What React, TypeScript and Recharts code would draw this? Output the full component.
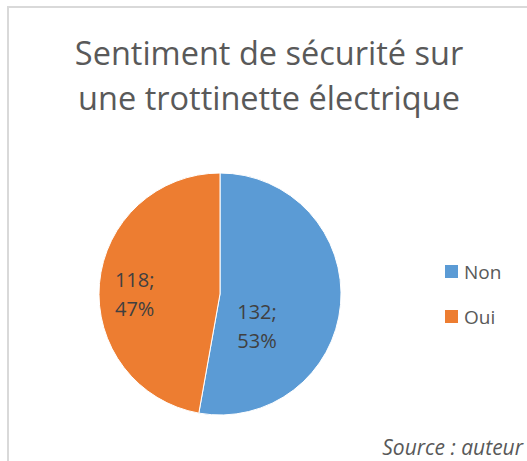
import React from 'react';
import { PieChart, Pie, Cell } from 'recharts';

const categories = ['Non', 'Oui'];
const values = [132, 118];
const colors = ['#5B9BD5', '#ED7D31'];
const titleLines = ['Sentiment de sécurité sur', 'une trottinette électrique'];
const sourceText = 'Source : auteur';

const data = categories.map((name, i) => ({ name, value: values[i] }));
const total = values.reduce((a, b) => a + b, 0);

const FONT = '"Open Sans", "Noto Sans", sans-serif';
const RAD = Math.PI / 180;

// label placement (polar, relative to slice) – best-fit like Excel
const labelPlacement = [
  { angleShift: -36.7, radiusFactor: 0.41 },
  { angleShift: 5.7, radiusFactor: 0.705 },
];

const renderLabel = (props: any) => {
  const { cx, cy, midAngle, outerRadius, index, value } = props;
  const p = labelPlacement[index];
  const a = (midAngle + p.angleShift) * RAD;
  const r = outerRadius * p.radiusFactor;
  const x = cx + r * Math.cos(a);
  const y = cy - r * Math.sin(a);
  const pct = Math.round((value / total) * 100);
  return (
    <text
      x={x}
      y={y}
      textAnchor="middle"
      fill="#404040"
      fontFamily={FONT}
      fontSize={20}
    >
      <tspan x={x} y={y - 8}>{`${value};`}</tspan>
      <tspan x={x} y={y + 21}>{`${pct}%`}</tspan>
    </text>
  );
};

export default function App() {
  return (
    <div
      style={{
        position: 'absolute',
        left: 0,
        top: 0,
        width: 527,
        height: 461,
        overflow: 'hidden',
        background: '#ffffff',
      }}
    >
      <div
        style={{
          position: 'absolute',
          left: 7,
          top: 6,
          width: 700,
          height: 700,
          border: '2px solid #d9d9d9',
          boxSizing: 'border-box',
        }}
      />
      <div style={{ position: 'absolute', left: 0, top: 0 }}>
        <PieChart width={527} height={461} margin={{ top: 0, right: 0, bottom: 0, left: 0 }}>
          <Pie
            data={data}
            dataKey="value"
            nameKey="name"
            cx={220}
            cy={294}
            outerRadius={121}
            startAngle={90}
            endAngle={-270}
            stroke="#ffffff"
            strokeWidth={1}
            label={renderLabel}
            labelLine={false}
            isAnimationActive={false}
          >
            {data.map((d, i) => (
              <Cell key={d.name} fill={colors[i]} />
            ))}
          </Pie>
        </PieChart>
      </div>
      <div
        style={{
          position: 'absolute',
          left: 445,
          top: 249,
          width: 80,
          fontFamily: FONT,
          fontSize: 19,
          color: '#595959',
        }}
      >
        {categories.map((c, i) => (
          <div key={c} style={{ display: 'flex', alignItems: 'center', height: 45 }}>
            <span
              style={{
                display: 'inline-block',
                width: 13,
                height: 13,
                background: colors[i],
                marginRight: 6,
              }}
            />
            <span>{c}</span>
          </div>
        ))}
      </div>
      <svg
        width={527}
        height={461}
        style={{ position: 'absolute', left: 0, top: 0, pointerEvents: 'none' }}
      >
        <text x={269} y={65} textAnchor="middle" fontFamily={FONT} fontSize={32.5} fill="#595959">
          {titleLines[0]}
        </text>
        <text x={269} y={110} textAnchor="middle" fontFamily={FONT} fontSize={32.5} fill="#595959">
          {titleLines[1]}
        </text>
        <text
          x={523}
          y={455}
          textAnchor="end"
          fontFamily={FONT}
          fontStyle="italic"
          fontSize={21}
          fill="#595959"
        >
          {sourceText}
        </text>
      </svg>
    </div>
  );
}
